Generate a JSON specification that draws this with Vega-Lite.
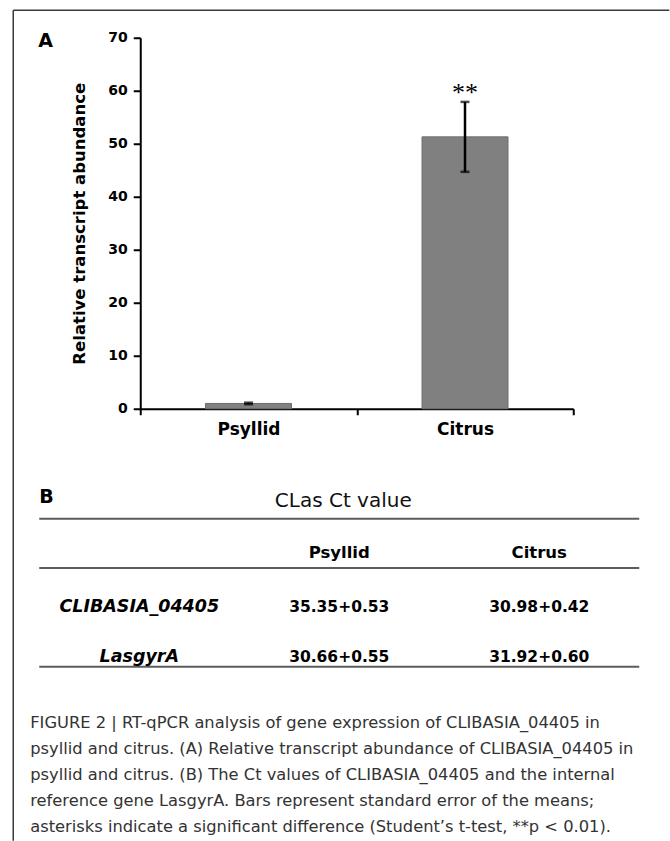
{
  "$schema": "https://vega.github.io/schema/vega-lite/v6.json",
  "background": "white",
  "padding": {"left": 12.25, "top": 8.75, "right": 0, "bottom": 0},
  "bounds": "flush",
  "spacing": 10,
  "config": {"view": {"stroke": null}, "font": "DejaVu Sans"},
  "vconcat": [
    {
      "width": 433,
      "height": 371,
      "title": {"text": "A", "anchor": "start", "frame": "group", "font": "DejaVu Sans", "fontSize": 19, "fontWeight": "bold", "color": "black", "offset": 0, "baseline": "alphabetic", "dx": -102, "dy": 56},
      "data": {"values": [
        {"group": "Psyllid", "mean": 1.0, "lo": 0.85, "hi": 1.15, "sig": ""},
        {"group": "Citrus", "mean": 51.3, "lo": 44.7, "hi": 57.9, "sig": "**"}
      ]},
      "encoding": {
        "x": {"field": "group", "type": "nominal", "sort": ["Psyllid", "Citrus"], "scale": {"paddingInner": 0, "paddingOuter": 0},
          "axis": {"title": null, "labelAngle": 0, "labelFont": "DejaVu Sans", "labelFontSize": 17, "labelFontWeight": "bold", "labelColor": "black", "labelPadding": 7, "tickSize": 6, "tickWidth": 2, "tickColor": "black", "domainColor": "black", "domainWidth": 2, "tickBand": "extent"}}
      },
      "layer": [
        {"data": {"values": [{}]}, "mark": {"type": "rule", "color": "#3a3a3a", "strokeWidth": 1.5}, "encoding": {"x": {"value": -127}, "y": {"value": -27.5}, "y2": {"value": 803}}},
        {"data": {"values": [{}]}, "mark": {"type": "rule", "color": "#3a3a3a", "strokeWidth": 1.5}, "encoding": {"x": {"value": -127}, "x2": {"value": 529}, "y": {"value": -27.5}}},
        {
          "mark": {"type": "bar", "size": 86, "color": "#808080", "stroke": "#6e6e6e", "strokeWidth": 1},
          "encoding": {
            "y": {"field": "mean", "type": "quantitative", "title": "Relative transcript abundance", "scale": {"domain": [0, 70], "nice": false},
              "axis": {"values": [0, 10, 20, 30, 40, 50, 60, 70], "grid": false, "titleFont": "DejaVu Sans", "titleFontSize": 16.5, "titleFontWeight": "bold", "titleColor": "black", "titlePadding": 20, "labelFont": "DejaVu Sans", "labelFontSize": 14, "labelFontWeight": "bold", "labelColor": "black", "labelPadding": 6, "tickSize": 7, "tickWidth": 2, "tickColor": "black", "domainColor": "black", "domainWidth": 2}}
          }
        },
        {
          "mark": {"type": "rule", "color": "black", "strokeWidth": 2.5},
          "encoding": {"y": {"field": "lo", "type": "quantitative", "title": "Relative transcript abundance"}, "y2": {"field": "hi"}}
        },
        {
          "mark": {"type": "tick", "color": "black", "size": 9, "thickness": 2.5},
          "encoding": {"y": {"field": "lo", "type": "quantitative", "title": "Relative transcript abundance"}}
        },
        {
          "mark": {"type": "tick", "color": "black", "size": 9, "thickness": 2.5},
          "encoding": {"y": {"field": "hi", "type": "quantitative", "title": "Relative transcript abundance"}}
        },
        {
          "transform": [{"filter": "datum.sig != ''"}],
          "mark": {"type": "text", "font": "Liberation Serif", "fontSize": 26, "baseline": "alphabetic", "dy": -1, "color": "black"},
          "encoding": {"y": {"field": "hi", "type": "quantitative", "title": "Relative transcript abundance"}, "text": {"field": "sig"}}
        }
      ]
    },
    {
      "width": 400,
      "height": 282,
      "data": {"values": [
        {"row": "title", "col": "label", "text": "B", "kind": "panel"},
        {"row": "title", "col": "Psyllid", "text": "CLas Ct value", "kind": "title"},
        {"row": "header", "col": "Psyllid", "text": "Psyllid", "kind": "head"},
        {"row": "header", "col": "Citrus", "text": "Citrus", "kind": "head"},
        {"row": "CLIBASIA_04405", "col": "label", "text": "CLIBASIA_04405", "kind": "gene"},
        {"row": "CLIBASIA_04405", "col": "Psyllid", "text": "35.35+0.53", "kind": "value"},
        {"row": "CLIBASIA_04405", "col": "Citrus", "text": "30.98+0.42", "kind": "value"},
        {"row": "LasgyrA", "col": "label", "text": "LasgyrA", "kind": "gene"},
        {"row": "LasgyrA", "col": "Psyllid", "text": "30.66+0.55", "kind": "value"},
        {"row": "LasgyrA", "col": "Citrus", "text": "31.92+0.60", "kind": "value"}
      ]},
      "layer": [
        {
          "data": {"values": [{"row": "title"}, {"row": "header"}, {"row": "LasgyrA"}]},
          "mark": {"type": "rule", "color": "#5c5c5c", "strokeWidth": 2},
          "encoding": {
            "x": {"datum": "label", "type": "nominal", "bandPosition": 0, "scale": {"type": "band", "domain": ["label", "Psyllid", "Citrus"], "range": [-101, 499], "paddingInner": 0, "paddingOuter": 0}, "axis": null},
            "x2": {"datum": "Citrus", "bandPosition": 1},
            "y": {"field": "row", "type": "nominal", "bandPosition": 1, "scale": {"type": "band", "domain": ["title", "header", "CLIBASIA_04405", "LasgyrA"], "range": [50.7, 248], "paddingInner": 0, "paddingOuter": 0}, "axis": null}
          }
        },
        {
          "transform": [{"filter": "datum.kind == 'panel'"}],
          "mark": {"type": "text", "align": "left", "baseline": "alphabetic", "font": "DejaVu Sans", "fontSize": 19, "fontWeight": "bold", "color": "black"},
          "encoding": {"x": {"field": "col", "type": "nominal", "bandPosition": 0}, "y": {"field": "row", "type": "nominal", "bandPosition": 0.675}, "text": {"field": "text"}}
        },
        {
          "transform": [{"filter": "datum.kind == 'title'"}],
          "mark": {"type": "text", "align": "center", "baseline": "alphabetic", "font": "DejaVu Sans", "fontSize": 20, "color": "#111"},
          "encoding": {"x": {"field": "col", "type": "nominal", "bandPosition": 0.52}, "y": {"field": "row", "type": "nominal", "bandPosition": 0.756}, "text": {"field": "text"}}
        },
        {
          "transform": [{"filter": "datum.kind == 'head'"}],
          "mark": {"type": "text", "align": "center", "baseline": "alphabetic", "font": "DejaVu Sans", "fontSize": 16.5, "fontWeight": "bold", "color": "black"},
          "encoding": {"x": {"field": "col", "type": "nominal", "bandPosition": 0.5}, "y": {"field": "row", "type": "nominal", "bandPosition": 0.79}, "text": {"field": "text"}}
        },
        {
          "transform": [{"filter": "datum.kind == 'gene'"}],
          "mark": {"type": "text", "align": "center", "baseline": "alphabetic", "font": "DejaVu Sans", "fontSize": 17.5, "fontWeight": "bold", "fontStyle": "italic", "color": "black"},
          "encoding": {"x": {"field": "col", "type": "nominal", "bandPosition": 0.5}, "y": {"field": "row", "type": "nominal", "bandPosition": 0.9}, "text": {"field": "text"}}
        },
        {
          "transform": [{"filter": "datum.kind == 'value'"}],
          "mark": {"type": "text", "align": "center", "baseline": "alphabetic", "font": "DejaVu Sans", "fontSize": 15.5, "fontWeight": "bold", "color": "black"},
          "encoding": {"x": {"field": "col", "type": "nominal", "bandPosition": 0.5}, "y": {"field": "row", "type": "nominal", "bandPosition": 0.9}, "text": {"field": "text"}}
        }
      ]
    },
    {
      "width": 400,
      "height": 130,
      "data": {"values": [
        {"line": 1, "text": "FIGURE 2 | RT-qPCR analysis of gene expression of CLIBASIA_04405 in"},
        {"line": 2, "text": "psyllid and citrus. (A) Relative transcript abundance of CLIBASIA_04405 in"},
        {"line": 3, "text": "psyllid and citrus. (B) The Ct values of CLIBASIA_04405 and the internal"},
        {"line": 4, "text": "reference gene LasgyrA. Bars represent standard error of the means;"},
        {"line": 5, "text": "asterisks indicate a significant difference (Student’s t-test, **p < 0.01)."}
      ]},
      "mark": {"type": "text", "align": "left", "baseline": "middle", "font": "DejaVu Sans", "fontSize": 16.3, "color": "#333"},
      "encoding": {
        "x": {"value": -110},
        "y": {"field": "line", "type": "ordinal", "scale": {"type": "point", "range": [12, 116], "padding": 0}, "axis": null},
        "text": {"field": "text"}
      }
    }
  ]
}
